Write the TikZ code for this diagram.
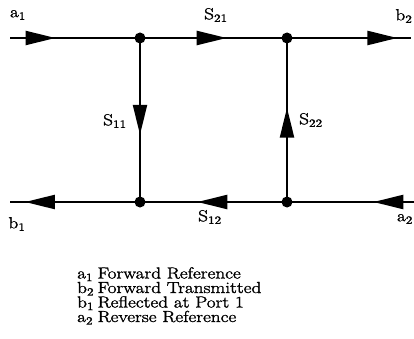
\documentclass[tikz,border=0pt]{standalone}
\usepackage{graphicx}
\usepackage{fontspec}
\setmainfont{Latin Modern Roman}[FakeBold=1.5]
\usetikzlibrary{arrows.meta,decorations.markings}
\newcommand{\wide}[1]{\scalebox{1.2}[1]{#1}}
\tikzset{
  sig/.style={line width=2.3pt},
  dot/.style={circle,fill=black,inner sep=0pt,minimum size=11pt},
  lbl/.style={inner sep=0pt,font=\fontsize{16}{18}\selectfont},
  leg/.style={inner sep=0pt,anchor=base west,font=\fontsize{16}{18}\selectfont},
  tipat/.style={postaction={decorate},decoration={markings,
     mark=at position #1 with {\arrow{Triangle[length=30pt,width=14pt]}}}}
}
\begin{document}
\begin{tikzpicture}[x=1pt,y=-1pt]
\useasboundingbox (0,0) rectangle (414,339);
% junctions
\node[dot] (n1) at (140,38) {};
\node[dot] (n2) at (287,38) {};
\node[dot] (n3) at (140,202) {};
\node[dot] (n4) at (287,202) {};
% port ends
\coordinate (pa1) at (10,38);
\coordinate (pb2) at (411,38);
\coordinate (pb1) at (10,202);
\coordinate (pa2) at (414,202);
% branches
\draw[sig,tipat=0.35] (pa1) -- (n1.center);
\draw[sig,tipat=0.59] (n1.center) -- (n2.center);
\draw[sig,tipat=0.89] (n2.center) -- (pb2);
\draw[sig,tipat=0.59] (n1.center) -- (n3.center);
\draw[sig,tipat=0.575] (n4.center) -- (n2.center);
\draw[sig,tipat=0.885] (n3.center) -- (pb1);
\draw[sig,tipat=0.61] (n4.center) -- (n3.center);
\draw[sig,tipat=0.32] (pa2) -- (n4.center);
% labels
\node[lbl] (la1) at (18,15) {\wide{a\textsubscript{1}}};
\node[lbl] (ls21) at (216,15) {\wide{S\textsubscript{21}}};
\node[lbl] (lb2) at (404,16) {\wide{b\textsubscript{2}}};
\node[lbl] (ls11) at (115,121) {\wide{S\textsubscript{11}}};
\node[lbl] (ls22) at (311,120) {\wide{S\textsubscript{22}}};
\node[lbl] (lb1) at (17,224) {\wide{b\textsubscript{1}}};
\node[lbl] (ls12) at (210,217) {\wide{S\textsubscript{12}}};
\node[lbl] (la2) at (405,219) {\wide{a\textsubscript{2}}};
% legend
\node[leg] (g1) at (77,278.5) {\wide{\makebox[17pt][l]{a\textsubscript{1}}Forward Reference}};
\node[leg] (g2) at (77,293) {\wide{\makebox[17pt][l]{b\textsubscript{2}}Forward Transmitted}};
\node[leg] (g3) at (77,307.5) {\wide{\makebox[17pt][l]{b\textsubscript{1}}Reflected at Port 1}};
\node[leg] (g4) at (77,322) {\wide{\makebox[17pt][l]{a\textsubscript{2}}Reverse Reference}};
\end{tikzpicture}
\end{document}
